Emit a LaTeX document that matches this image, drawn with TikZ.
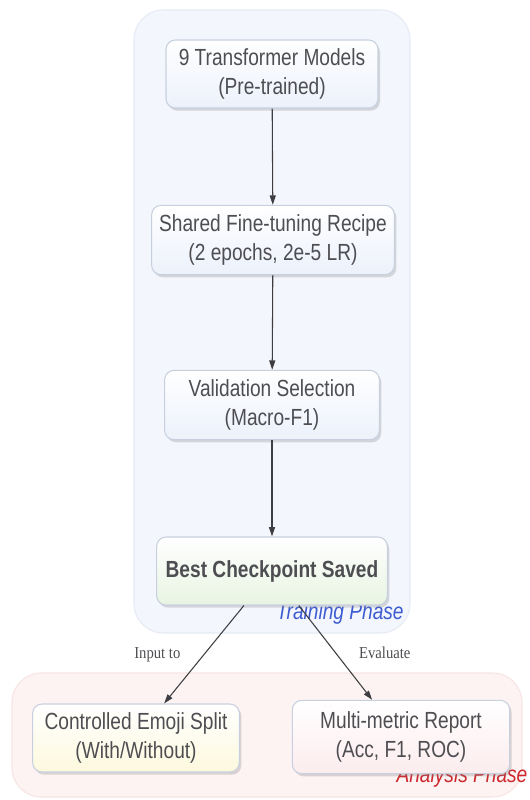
\documentclass[tikz,border=0pt]{standalone}
\usepackage{fontspec}
\setmainfont{Liberation Sans}
\newfontfamily\boxfont{Liberation Sans}[FakeStretch=0.82]
\newfontfamily\edgefont{Liberation Serif}[FakeStretch=0.88]
\usetikzlibrary{arrows.meta,shadows}
\definecolor{trainfill}{RGB}{243,246,252}
\definecolor{trainline}{RGB}{230,235,245}
\definecolor{anafill}{RGB}{253,243,243}
\definecolor{analine}{RGB}{248,228,228}
\definecolor{stageblue}{RGB}{236,241,251}
\definecolor{stageline}{RGB}{200,208,224}
\definecolor{stagegreen}{RGB}{232,244,226}
\definecolor{stageyellow}{RGB}{253,249,222}
\definecolor{stagepink}{RGB}{252,236,238}
\definecolor{stagetext}{RGB}{78,78,82}
\definecolor{trainlabel}{RGB}{62,92,210}
\definecolor{analabel}{RGB}{205,40,45}

\begin{document}
\begin{tikzpicture}[x=0.75pt, y=-0.75pt,
      phase/.style={rounded corners=22pt, line width=0.8pt},
      phaselabel/.style={font=\boxfont\fontsize{17.5}{19}\selectfont\itshape},
      stage/.style={rounded corners=7pt, draw=stageline, line width=0.8pt, align=center, inner sep=3pt,
        font=\boxfont\fontsize{17.5}{21.5}\selectfont, text=stagetext, top color=white,
        drop shadow={shadow xshift=1.5pt, shadow yshift=-2pt, opacity=0.28, fill=gray}},
      flow/.style={draw=stagetext!80!black, line width=0.8pt, -{Triangle[length=7pt, width=4.5pt]}},
      flowlabel/.style={font=\edgefont\fontsize{12.5}{14}\selectfont, text=stagetext}
    ]
      \useasboundingbox (0,0) rectangle (529,800);
      \fill[white] (0,0) rectangle (529,800);

      \filldraw[phase, fill=trainfill, draw=trainline] (134,10) rectangle (410,633);
      \filldraw[phase, fill=anafill, draw=analine] (12,673) rectangle (522,797);

      \node[phaselabel, text=trainlabel] (trainphase) at (340,613) {Training Phase};
      \node[phaselabel, text=analabel] (anaphase) at (462,776) {Analysis Phase};

      \node[stage, bottom color=stageblue, minimum width=159pt, minimum height=51pt] (models) at (272,74) {9 Transformer Models\\(Pre-trained)};
      \node[stage, bottom color=stageblue, minimum width=182pt, minimum height=52pt] (recipe) at (273,240) {Shared Fine-tuning Recipe\\(2 epochs, 2e-5 LR)};
      \node[stage, bottom color=stageblue, minimum width=161pt, minimum height=52pt] (valsel) at (272,405) {Validation Selection\\(Macro-F1)};
      \node[stage, bottom color=stagegreen, minimum width=173pt, minimum height=51pt] (best) at (272,571) {\bfseries Best Checkpoint Saved};
      \node[stage, bottom color=stageyellow, minimum width=155pt, minimum height=51pt] (emoji) at (136,738) {Controlled Emoji Split\\(With/Without)};
      \node[stage, bottom color=stagepink, minimum width=163pt, minimum height=55pt] (report) at (401,737) {Multi-metric Report\\(Acc, F1, ROC)};

      \draw[flow] (models) -- (recipe);
      \draw[flow] (recipe) -- (valsel);
      \draw[flow] (valsel) -- (best);
      \draw[flow] (best) -- node[flowlabel, left=14pt] {Input to} (emoji);
      \draw[flow] (best) -- node[flowlabel, right=14pt] {Evaluate} (report);
    \end{tikzpicture}
\end{document}
